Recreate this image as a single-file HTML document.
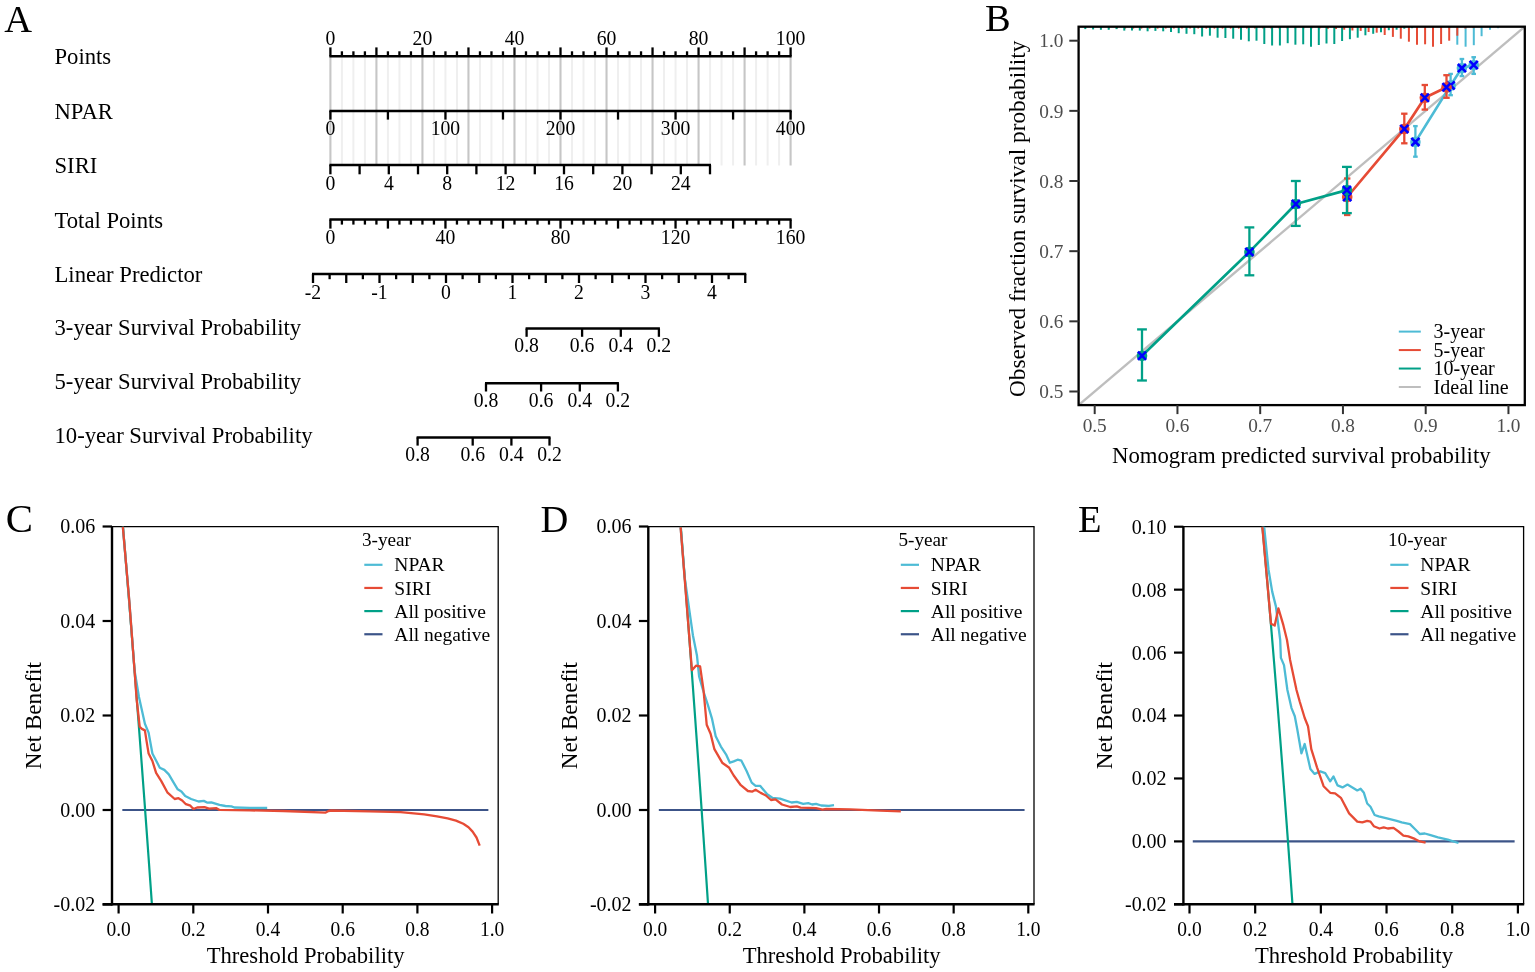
<!DOCTYPE html>
<html><head><meta charset="utf-8"><title>Nomogram, calibration and decision curves</title>
<style>
html,body{margin:0;padding:0;background:#fff;}
body{width:1535px;height:972px;overflow:hidden;}
svg{display:block;}
text{font-family:"Liberation Serif","Times New Roman",serif;}
</style></head><body>
<svg width="1535" height="972" viewBox="0 0 1535 972">
<rect width="1535" height="972" fill="#fff"/>
<text transform="translate(4.2,31.5)" font-size="38.5">A</text>
<text transform="translate(54.5,64.3) scale(0.9450,1)" font-size="24">Points</text>
<text transform="translate(54.5,118.9) scale(0.9450,1)" font-size="24">NPAR</text>
<text transform="translate(54.5,172.9) scale(0.9450,1)" font-size="24">SIRI</text>
<text transform="translate(54.5,227.5) scale(0.9450,1)" font-size="24">Total Points</text>
<text transform="translate(54.5,282.4) scale(0.9450,1)" font-size="24">Linear Predictor</text>
<text transform="translate(54.5,334.8) scale(0.9450,1)" font-size="24">3-year Survival Probability</text>
<text transform="translate(54.5,389) scale(0.9450,1)" font-size="24">5-year Survival Probability</text>
<text transform="translate(54.5,443) scale(0.9450,1)" font-size="24">10-year Survival Probability</text>
<line x1="330.4" y1="56.3" x2="330.4" y2="165.5" stroke="#c6c6c6" stroke-width="2.1"/>
<line x1="341.9" y1="56.3" x2="341.9" y2="165.5" stroke="#efefef" stroke-width="2"/>
<line x1="353.41" y1="56.3" x2="353.41" y2="165.5" stroke="#efefef" stroke-width="2"/>
<line x1="364.91" y1="56.3" x2="364.91" y2="165.5" stroke="#efefef" stroke-width="2"/>
<line x1="376.42" y1="56.3" x2="376.42" y2="165.5" stroke="#c6c6c6" stroke-width="2.1"/>
<line x1="387.92" y1="56.3" x2="387.92" y2="165.5" stroke="#efefef" stroke-width="2"/>
<line x1="399.43" y1="56.3" x2="399.43" y2="165.5" stroke="#efefef" stroke-width="2"/>
<line x1="410.94" y1="56.3" x2="410.94" y2="165.5" stroke="#efefef" stroke-width="2"/>
<line x1="422.44" y1="56.3" x2="422.44" y2="165.5" stroke="#c6c6c6" stroke-width="2.1"/>
<line x1="433.94" y1="56.3" x2="433.94" y2="165.5" stroke="#efefef" stroke-width="2"/>
<line x1="445.45" y1="56.3" x2="445.45" y2="165.5" stroke="#efefef" stroke-width="2"/>
<line x1="456.95" y1="56.3" x2="456.95" y2="165.5" stroke="#efefef" stroke-width="2"/>
<line x1="468.46" y1="56.3" x2="468.46" y2="165.5" stroke="#c6c6c6" stroke-width="2.1"/>
<line x1="479.97" y1="56.3" x2="479.97" y2="165.5" stroke="#efefef" stroke-width="2"/>
<line x1="491.47" y1="56.3" x2="491.47" y2="165.5" stroke="#efefef" stroke-width="2"/>
<line x1="502.97" y1="56.3" x2="502.97" y2="165.5" stroke="#efefef" stroke-width="2"/>
<line x1="514.48" y1="56.3" x2="514.48" y2="165.5" stroke="#c6c6c6" stroke-width="2.1"/>
<line x1="525.99" y1="56.3" x2="525.99" y2="165.5" stroke="#efefef" stroke-width="2"/>
<line x1="537.49" y1="56.3" x2="537.49" y2="165.5" stroke="#efefef" stroke-width="2"/>
<line x1="549" y1="56.3" x2="549" y2="165.5" stroke="#efefef" stroke-width="2"/>
<line x1="560.5" y1="56.3" x2="560.5" y2="165.5" stroke="#c6c6c6" stroke-width="2.1"/>
<line x1="572" y1="56.3" x2="572" y2="165.5" stroke="#efefef" stroke-width="2"/>
<line x1="583.51" y1="56.3" x2="583.51" y2="165.5" stroke="#efefef" stroke-width="2"/>
<line x1="595.01" y1="56.3" x2="595.01" y2="165.5" stroke="#efefef" stroke-width="2"/>
<line x1="606.52" y1="56.3" x2="606.52" y2="165.5" stroke="#c6c6c6" stroke-width="2.1"/>
<line x1="618.03" y1="56.3" x2="618.03" y2="165.5" stroke="#efefef" stroke-width="2"/>
<line x1="629.53" y1="56.3" x2="629.53" y2="165.5" stroke="#efefef" stroke-width="2"/>
<line x1="641.04" y1="56.3" x2="641.04" y2="165.5" stroke="#efefef" stroke-width="2"/>
<line x1="652.54" y1="56.3" x2="652.54" y2="165.5" stroke="#c6c6c6" stroke-width="2.1"/>
<line x1="664.04" y1="56.3" x2="664.04" y2="165.5" stroke="#efefef" stroke-width="2"/>
<line x1="675.55" y1="56.3" x2="675.55" y2="165.5" stroke="#efefef" stroke-width="2"/>
<line x1="687.05" y1="56.3" x2="687.05" y2="165.5" stroke="#efefef" stroke-width="2"/>
<line x1="698.56" y1="56.3" x2="698.56" y2="165.5" stroke="#c6c6c6" stroke-width="2.1"/>
<line x1="710.07" y1="56.3" x2="710.07" y2="165.5" stroke="#efefef" stroke-width="2"/>
<line x1="721.57" y1="56.3" x2="721.57" y2="165.5" stroke="#efefef" stroke-width="2"/>
<line x1="733.08" y1="56.3" x2="733.08" y2="165.5" stroke="#efefef" stroke-width="2"/>
<line x1="744.58" y1="56.3" x2="744.58" y2="165.5" stroke="#c6c6c6" stroke-width="2.1"/>
<line x1="756.09" y1="56.3" x2="756.09" y2="165.5" stroke="#efefef" stroke-width="2"/>
<line x1="767.59" y1="56.3" x2="767.59" y2="165.5" stroke="#efefef" stroke-width="2"/>
<line x1="779.1" y1="56.3" x2="779.1" y2="165.5" stroke="#efefef" stroke-width="2"/>
<line x1="790.6" y1="56.3" x2="790.6" y2="165.5" stroke="#c6c6c6" stroke-width="2.1"/>
<line x1="329.4" y1="56.3" x2="791.6" y2="56.3" stroke="#000" stroke-width="2.5"/>
<line x1="330.4" y1="56.3" x2="330.4" y2="47.4" stroke="#000" stroke-width="2.3"/>
<line x1="341.9" y1="56.3" x2="341.9" y2="51.3" stroke="#000" stroke-width="2.3"/>
<line x1="353.41" y1="56.3" x2="353.41" y2="51.3" stroke="#000" stroke-width="2.3"/>
<line x1="364.91" y1="56.3" x2="364.91" y2="51.3" stroke="#000" stroke-width="2.3"/>
<line x1="376.42" y1="56.3" x2="376.42" y2="47.4" stroke="#000" stroke-width="2.3"/>
<line x1="387.92" y1="56.3" x2="387.92" y2="51.3" stroke="#000" stroke-width="2.3"/>
<line x1="399.43" y1="56.3" x2="399.43" y2="51.3" stroke="#000" stroke-width="2.3"/>
<line x1="410.94" y1="56.3" x2="410.94" y2="51.3" stroke="#000" stroke-width="2.3"/>
<line x1="422.44" y1="56.3" x2="422.44" y2="47.4" stroke="#000" stroke-width="2.3"/>
<line x1="433.94" y1="56.3" x2="433.94" y2="51.3" stroke="#000" stroke-width="2.3"/>
<line x1="445.45" y1="56.3" x2="445.45" y2="51.3" stroke="#000" stroke-width="2.3"/>
<line x1="456.95" y1="56.3" x2="456.95" y2="51.3" stroke="#000" stroke-width="2.3"/>
<line x1="468.46" y1="56.3" x2="468.46" y2="47.4" stroke="#000" stroke-width="2.3"/>
<line x1="479.97" y1="56.3" x2="479.97" y2="51.3" stroke="#000" stroke-width="2.3"/>
<line x1="491.47" y1="56.3" x2="491.47" y2="51.3" stroke="#000" stroke-width="2.3"/>
<line x1="502.97" y1="56.3" x2="502.97" y2="51.3" stroke="#000" stroke-width="2.3"/>
<line x1="514.48" y1="56.3" x2="514.48" y2="47.4" stroke="#000" stroke-width="2.3"/>
<line x1="525.99" y1="56.3" x2="525.99" y2="51.3" stroke="#000" stroke-width="2.3"/>
<line x1="537.49" y1="56.3" x2="537.49" y2="51.3" stroke="#000" stroke-width="2.3"/>
<line x1="549" y1="56.3" x2="549" y2="51.3" stroke="#000" stroke-width="2.3"/>
<line x1="560.5" y1="56.3" x2="560.5" y2="47.4" stroke="#000" stroke-width="2.3"/>
<line x1="572" y1="56.3" x2="572" y2="51.3" stroke="#000" stroke-width="2.3"/>
<line x1="583.51" y1="56.3" x2="583.51" y2="51.3" stroke="#000" stroke-width="2.3"/>
<line x1="595.01" y1="56.3" x2="595.01" y2="51.3" stroke="#000" stroke-width="2.3"/>
<line x1="606.52" y1="56.3" x2="606.52" y2="47.4" stroke="#000" stroke-width="2.3"/>
<line x1="618.03" y1="56.3" x2="618.03" y2="51.3" stroke="#000" stroke-width="2.3"/>
<line x1="629.53" y1="56.3" x2="629.53" y2="51.3" stroke="#000" stroke-width="2.3"/>
<line x1="641.04" y1="56.3" x2="641.04" y2="51.3" stroke="#000" stroke-width="2.3"/>
<line x1="652.54" y1="56.3" x2="652.54" y2="47.4" stroke="#000" stroke-width="2.3"/>
<line x1="664.04" y1="56.3" x2="664.04" y2="51.3" stroke="#000" stroke-width="2.3"/>
<line x1="675.55" y1="56.3" x2="675.55" y2="51.3" stroke="#000" stroke-width="2.3"/>
<line x1="687.05" y1="56.3" x2="687.05" y2="51.3" stroke="#000" stroke-width="2.3"/>
<line x1="698.56" y1="56.3" x2="698.56" y2="47.4" stroke="#000" stroke-width="2.3"/>
<line x1="710.07" y1="56.3" x2="710.07" y2="51.3" stroke="#000" stroke-width="2.3"/>
<line x1="721.57" y1="56.3" x2="721.57" y2="51.3" stroke="#000" stroke-width="2.3"/>
<line x1="733.08" y1="56.3" x2="733.08" y2="51.3" stroke="#000" stroke-width="2.3"/>
<line x1="744.58" y1="56.3" x2="744.58" y2="47.4" stroke="#000" stroke-width="2.3"/>
<line x1="756.09" y1="56.3" x2="756.09" y2="51.3" stroke="#000" stroke-width="2.3"/>
<line x1="767.59" y1="56.3" x2="767.59" y2="51.3" stroke="#000" stroke-width="2.3"/>
<line x1="779.1" y1="56.3" x2="779.1" y2="51.3" stroke="#000" stroke-width="2.3"/>
<line x1="790.6" y1="56.3" x2="790.6" y2="47.4" stroke="#000" stroke-width="2.3"/>
<text transform="translate(330.4,45.3) scale(0.9700,1)" font-size="20.3" text-anchor="middle">0</text>
<text transform="translate(422.44,45.3) scale(0.9700,1)" font-size="20.3" text-anchor="middle">20</text>
<text transform="translate(514.48,45.3) scale(0.9700,1)" font-size="20.3" text-anchor="middle">40</text>
<text transform="translate(606.52,45.3) scale(0.9700,1)" font-size="20.3" text-anchor="middle">60</text>
<text transform="translate(698.56,45.3) scale(0.9700,1)" font-size="20.3" text-anchor="middle">80</text>
<text transform="translate(790.6,45.3) scale(0.9700,1)" font-size="20.3" text-anchor="middle">100</text>
<line x1="329.4" y1="111" x2="791.6" y2="111" stroke="#000" stroke-width="2.5"/>
<line x1="330.4" y1="111" x2="330.4" y2="119.6" stroke="#000" stroke-width="2.3"/>
<line x1="387.92" y1="111" x2="387.92" y2="119.6" stroke="#000" stroke-width="2.3"/>
<line x1="445.45" y1="111" x2="445.45" y2="119.6" stroke="#000" stroke-width="2.3"/>
<line x1="502.97" y1="111" x2="502.97" y2="119.6" stroke="#000" stroke-width="2.3"/>
<line x1="560.5" y1="111" x2="560.5" y2="119.6" stroke="#000" stroke-width="2.3"/>
<line x1="618.03" y1="111" x2="618.03" y2="119.6" stroke="#000" stroke-width="2.3"/>
<line x1="675.55" y1="111" x2="675.55" y2="119.6" stroke="#000" stroke-width="2.3"/>
<line x1="733.08" y1="111" x2="733.08" y2="119.6" stroke="#000" stroke-width="2.3"/>
<line x1="790.6" y1="111" x2="790.6" y2="119.6" stroke="#000" stroke-width="2.3"/>
<text transform="translate(330.4,135.2) scale(0.9700,1)" font-size="20.3" text-anchor="middle">0</text>
<text transform="translate(445.45,135.2) scale(0.9700,1)" font-size="20.3" text-anchor="middle">100</text>
<text transform="translate(560.5,135.2) scale(0.9700,1)" font-size="20.3" text-anchor="middle">200</text>
<text transform="translate(675.55,135.2) scale(0.9700,1)" font-size="20.3" text-anchor="middle">300</text>
<text transform="translate(790.6,135.2) scale(0.9700,1)" font-size="20.3" text-anchor="middle">400</text>
<line x1="329.4" y1="165.1" x2="711" y2="165.1" stroke="#000" stroke-width="2.5"/>
<line x1="330.4" y1="165.1" x2="330.4" y2="174.3" stroke="#000" stroke-width="2.3"/>
<line x1="359.6" y1="165.1" x2="359.6" y2="174.3" stroke="#000" stroke-width="2.3"/>
<line x1="388.8" y1="165.1" x2="388.8" y2="174.3" stroke="#000" stroke-width="2.3"/>
<line x1="418" y1="165.1" x2="418" y2="174.3" stroke="#000" stroke-width="2.3"/>
<line x1="447.2" y1="165.1" x2="447.2" y2="174.3" stroke="#000" stroke-width="2.3"/>
<line x1="476.4" y1="165.1" x2="476.4" y2="174.3" stroke="#000" stroke-width="2.3"/>
<line x1="505.6" y1="165.1" x2="505.6" y2="174.3" stroke="#000" stroke-width="2.3"/>
<line x1="534.8" y1="165.1" x2="534.8" y2="174.3" stroke="#000" stroke-width="2.3"/>
<line x1="564" y1="165.1" x2="564" y2="174.3" stroke="#000" stroke-width="2.3"/>
<line x1="593.2" y1="165.1" x2="593.2" y2="174.3" stroke="#000" stroke-width="2.3"/>
<line x1="622.4" y1="165.1" x2="622.4" y2="174.3" stroke="#000" stroke-width="2.3"/>
<line x1="651.6" y1="165.1" x2="651.6" y2="174.3" stroke="#000" stroke-width="2.3"/>
<line x1="680.8" y1="165.1" x2="680.8" y2="174.3" stroke="#000" stroke-width="2.3"/>
<line x1="710" y1="165.1" x2="710" y2="174.3" stroke="#000" stroke-width="2.3"/>
<text transform="translate(330.4,189.6) scale(0.9700,1)" font-size="20.3" text-anchor="middle">0</text>
<text transform="translate(388.8,189.6) scale(0.9700,1)" font-size="20.3" text-anchor="middle">4</text>
<text transform="translate(447.2,189.6) scale(0.9700,1)" font-size="20.3" text-anchor="middle">8</text>
<text transform="translate(505.6,189.6) scale(0.9700,1)" font-size="20.3" text-anchor="middle">12</text>
<text transform="translate(564,189.6) scale(0.9700,1)" font-size="20.3" text-anchor="middle">16</text>
<text transform="translate(622.4,189.6) scale(0.9700,1)" font-size="20.3" text-anchor="middle">20</text>
<text transform="translate(680.8,189.6) scale(0.9700,1)" font-size="20.3" text-anchor="middle">24</text>
<line x1="329.4" y1="219.6" x2="791.6" y2="219.6" stroke="#000" stroke-width="2.5"/>
<line x1="330.4" y1="219.6" x2="330.4" y2="228.6" stroke="#000" stroke-width="2.3"/>
<line x1="341.9" y1="219.6" x2="341.9" y2="224.6" stroke="#000" stroke-width="2.3"/>
<line x1="353.41" y1="219.6" x2="353.41" y2="224.6" stroke="#000" stroke-width="2.3"/>
<line x1="364.91" y1="219.6" x2="364.91" y2="224.6" stroke="#000" stroke-width="2.3"/>
<line x1="376.42" y1="219.6" x2="376.42" y2="224.6" stroke="#000" stroke-width="2.3"/>
<line x1="387.92" y1="219.6" x2="387.92" y2="228.6" stroke="#000" stroke-width="2.3"/>
<line x1="399.43" y1="219.6" x2="399.43" y2="224.6" stroke="#000" stroke-width="2.3"/>
<line x1="410.94" y1="219.6" x2="410.94" y2="224.6" stroke="#000" stroke-width="2.3"/>
<line x1="422.44" y1="219.6" x2="422.44" y2="224.6" stroke="#000" stroke-width="2.3"/>
<line x1="433.94" y1="219.6" x2="433.94" y2="224.6" stroke="#000" stroke-width="2.3"/>
<line x1="445.45" y1="219.6" x2="445.45" y2="228.6" stroke="#000" stroke-width="2.3"/>
<line x1="456.95" y1="219.6" x2="456.95" y2="224.6" stroke="#000" stroke-width="2.3"/>
<line x1="468.46" y1="219.6" x2="468.46" y2="224.6" stroke="#000" stroke-width="2.3"/>
<line x1="479.96" y1="219.6" x2="479.96" y2="224.6" stroke="#000" stroke-width="2.3"/>
<line x1="491.47" y1="219.6" x2="491.47" y2="224.6" stroke="#000" stroke-width="2.3"/>
<line x1="502.98" y1="219.6" x2="502.98" y2="228.6" stroke="#000" stroke-width="2.3"/>
<line x1="514.48" y1="219.6" x2="514.48" y2="224.6" stroke="#000" stroke-width="2.3"/>
<line x1="525.99" y1="219.6" x2="525.99" y2="224.6" stroke="#000" stroke-width="2.3"/>
<line x1="537.49" y1="219.6" x2="537.49" y2="224.6" stroke="#000" stroke-width="2.3"/>
<line x1="549" y1="219.6" x2="549" y2="224.6" stroke="#000" stroke-width="2.3"/>
<line x1="560.5" y1="219.6" x2="560.5" y2="228.6" stroke="#000" stroke-width="2.3"/>
<line x1="572" y1="219.6" x2="572" y2="224.6" stroke="#000" stroke-width="2.3"/>
<line x1="583.51" y1="219.6" x2="583.51" y2="224.6" stroke="#000" stroke-width="2.3"/>
<line x1="595.01" y1="219.6" x2="595.01" y2="224.6" stroke="#000" stroke-width="2.3"/>
<line x1="606.52" y1="219.6" x2="606.52" y2="224.6" stroke="#000" stroke-width="2.3"/>
<line x1="618.03" y1="219.6" x2="618.03" y2="228.6" stroke="#000" stroke-width="2.3"/>
<line x1="629.53" y1="219.6" x2="629.53" y2="224.6" stroke="#000" stroke-width="2.3"/>
<line x1="641.04" y1="219.6" x2="641.04" y2="224.6" stroke="#000" stroke-width="2.3"/>
<line x1="652.54" y1="219.6" x2="652.54" y2="224.6" stroke="#000" stroke-width="2.3"/>
<line x1="664.05" y1="219.6" x2="664.05" y2="224.6" stroke="#000" stroke-width="2.3"/>
<line x1="675.55" y1="219.6" x2="675.55" y2="228.6" stroke="#000" stroke-width="2.3"/>
<line x1="687.06" y1="219.6" x2="687.06" y2="224.6" stroke="#000" stroke-width="2.3"/>
<line x1="698.56" y1="219.6" x2="698.56" y2="224.6" stroke="#000" stroke-width="2.3"/>
<line x1="710.07" y1="219.6" x2="710.07" y2="224.6" stroke="#000" stroke-width="2.3"/>
<line x1="721.57" y1="219.6" x2="721.57" y2="224.6" stroke="#000" stroke-width="2.3"/>
<line x1="733.08" y1="219.6" x2="733.08" y2="228.6" stroke="#000" stroke-width="2.3"/>
<line x1="744.58" y1="219.6" x2="744.58" y2="224.6" stroke="#000" stroke-width="2.3"/>
<line x1="756.09" y1="219.6" x2="756.09" y2="224.6" stroke="#000" stroke-width="2.3"/>
<line x1="767.59" y1="219.6" x2="767.59" y2="224.6" stroke="#000" stroke-width="2.3"/>
<line x1="779.1" y1="219.6" x2="779.1" y2="224.6" stroke="#000" stroke-width="2.3"/>
<line x1="790.6" y1="219.6" x2="790.6" y2="228.6" stroke="#000" stroke-width="2.3"/>
<text transform="translate(330.4,243.7) scale(0.9700,1)" font-size="20.3" text-anchor="middle">0</text>
<text transform="translate(445.45,243.7) scale(0.9700,1)" font-size="20.3" text-anchor="middle">40</text>
<text transform="translate(560.5,243.7) scale(0.9700,1)" font-size="20.3" text-anchor="middle">80</text>
<text transform="translate(675.55,243.7) scale(0.9700,1)" font-size="20.3" text-anchor="middle">120</text>
<text transform="translate(790.6,243.7) scale(0.9700,1)" font-size="20.3" text-anchor="middle">160</text>
<line x1="312" y1="274" x2="746.25" y2="274" stroke="#000" stroke-width="2.5"/>
<line x1="313" y1="274" x2="313" y2="283" stroke="#000" stroke-width="2.3"/>
<line x1="329.62" y1="274" x2="329.62" y2="279.2" stroke="#000" stroke-width="2.3"/>
<line x1="346.25" y1="274" x2="346.25" y2="283" stroke="#000" stroke-width="2.3"/>
<line x1="362.88" y1="274" x2="362.88" y2="279.2" stroke="#000" stroke-width="2.3"/>
<line x1="379.5" y1="274" x2="379.5" y2="283" stroke="#000" stroke-width="2.3"/>
<line x1="396.12" y1="274" x2="396.12" y2="279.2" stroke="#000" stroke-width="2.3"/>
<line x1="412.75" y1="274" x2="412.75" y2="283" stroke="#000" stroke-width="2.3"/>
<line x1="429.38" y1="274" x2="429.38" y2="279.2" stroke="#000" stroke-width="2.3"/>
<line x1="446" y1="274" x2="446" y2="283" stroke="#000" stroke-width="2.3"/>
<line x1="462.62" y1="274" x2="462.62" y2="279.2" stroke="#000" stroke-width="2.3"/>
<line x1="479.25" y1="274" x2="479.25" y2="283" stroke="#000" stroke-width="2.3"/>
<line x1="495.88" y1="274" x2="495.88" y2="279.2" stroke="#000" stroke-width="2.3"/>
<line x1="512.5" y1="274" x2="512.5" y2="283" stroke="#000" stroke-width="2.3"/>
<line x1="529.12" y1="274" x2="529.12" y2="279.2" stroke="#000" stroke-width="2.3"/>
<line x1="545.75" y1="274" x2="545.75" y2="283" stroke="#000" stroke-width="2.3"/>
<line x1="562.38" y1="274" x2="562.38" y2="279.2" stroke="#000" stroke-width="2.3"/>
<line x1="579" y1="274" x2="579" y2="283" stroke="#000" stroke-width="2.3"/>
<line x1="595.62" y1="274" x2="595.62" y2="279.2" stroke="#000" stroke-width="2.3"/>
<line x1="612.25" y1="274" x2="612.25" y2="283" stroke="#000" stroke-width="2.3"/>
<line x1="628.88" y1="274" x2="628.88" y2="279.2" stroke="#000" stroke-width="2.3"/>
<line x1="645.5" y1="274" x2="645.5" y2="283" stroke="#000" stroke-width="2.3"/>
<line x1="662.12" y1="274" x2="662.12" y2="279.2" stroke="#000" stroke-width="2.3"/>
<line x1="678.75" y1="274" x2="678.75" y2="283" stroke="#000" stroke-width="2.3"/>
<line x1="695.38" y1="274" x2="695.38" y2="279.2" stroke="#000" stroke-width="2.3"/>
<line x1="712" y1="274" x2="712" y2="283" stroke="#000" stroke-width="2.3"/>
<line x1="728.62" y1="274" x2="728.62" y2="279.2" stroke="#000" stroke-width="2.3"/>
<line x1="745.25" y1="274" x2="745.25" y2="283" stroke="#000" stroke-width="2.3"/>
<text transform="translate(313,298.5) scale(0.9700,1)" font-size="20.3" text-anchor="middle">-2</text>
<text transform="translate(379.5,298.5) scale(0.9700,1)" font-size="20.3" text-anchor="middle">-1</text>
<text transform="translate(446,298.5) scale(0.9700,1)" font-size="20.3" text-anchor="middle">0</text>
<text transform="translate(512.5,298.5) scale(0.9700,1)" font-size="20.3" text-anchor="middle">1</text>
<text transform="translate(579,298.5) scale(0.9700,1)" font-size="20.3" text-anchor="middle">2</text>
<text transform="translate(645.5,298.5) scale(0.9700,1)" font-size="20.3" text-anchor="middle">3</text>
<text transform="translate(712,298.5) scale(0.9700,1)" font-size="20.3" text-anchor="middle">4</text>
<line x1="525.6" y1="328.6" x2="659.9" y2="328.6" stroke="#000" stroke-width="2.5"/>
<line x1="526.6" y1="328.6" x2="526.6" y2="336.8" stroke="#000" stroke-width="2.3"/>
<text transform="translate(526.6,351.6) scale(0.9700,1)" font-size="20.3" text-anchor="middle">0.8</text>
<line x1="582.1" y1="328.6" x2="582.1" y2="336.8" stroke="#000" stroke-width="2.3"/>
<text transform="translate(582.1,351.6) scale(0.9700,1)" font-size="20.3" text-anchor="middle">0.6</text>
<line x1="620.8" y1="328.6" x2="620.8" y2="336.8" stroke="#000" stroke-width="2.3"/>
<text transform="translate(620.8,351.6) scale(0.9700,1)" font-size="20.3" text-anchor="middle">0.4</text>
<line x1="658.9" y1="328.6" x2="658.9" y2="336.8" stroke="#000" stroke-width="2.3"/>
<text transform="translate(658.9,351.6) scale(0.9700,1)" font-size="20.3" text-anchor="middle">0.2</text>
<line x1="485" y1="383.3" x2="618.9" y2="383.3" stroke="#000" stroke-width="2.5"/>
<line x1="486" y1="383.3" x2="486" y2="391.5" stroke="#000" stroke-width="2.3"/>
<text transform="translate(486,406.7) scale(0.9700,1)" font-size="20.3" text-anchor="middle">0.8</text>
<line x1="541.1" y1="383.3" x2="541.1" y2="391.5" stroke="#000" stroke-width="2.3"/>
<text transform="translate(541.1,406.7) scale(0.9700,1)" font-size="20.3" text-anchor="middle">0.6</text>
<line x1="579.8" y1="383.3" x2="579.8" y2="391.5" stroke="#000" stroke-width="2.3"/>
<text transform="translate(579.8,406.7) scale(0.9700,1)" font-size="20.3" text-anchor="middle">0.4</text>
<line x1="617.9" y1="383.3" x2="617.9" y2="391.5" stroke="#000" stroke-width="2.3"/>
<text transform="translate(617.9,406.7) scale(0.9700,1)" font-size="20.3" text-anchor="middle">0.2</text>
<line x1="416.6" y1="437.4" x2="550.5" y2="437.4" stroke="#000" stroke-width="2.5"/>
<line x1="417.6" y1="437.4" x2="417.6" y2="445.6" stroke="#000" stroke-width="2.3"/>
<text transform="translate(417.6,461.1) scale(0.9700,1)" font-size="20.3" text-anchor="middle">0.8</text>
<line x1="472.7" y1="437.4" x2="472.7" y2="445.6" stroke="#000" stroke-width="2.3"/>
<text transform="translate(472.7,461.1) scale(0.9700,1)" font-size="20.3" text-anchor="middle">0.6</text>
<line x1="511.4" y1="437.4" x2="511.4" y2="445.6" stroke="#000" stroke-width="2.3"/>
<text transform="translate(511.4,461.1) scale(0.9700,1)" font-size="20.3" text-anchor="middle">0.4</text>
<line x1="549.5" y1="437.4" x2="549.5" y2="445.6" stroke="#000" stroke-width="2.3"/>
<text transform="translate(549.5,461.1) scale(0.9700,1)" font-size="20.3" text-anchor="middle">0.2</text>
<text transform="translate(985,31.4)" font-size="38.5">B</text>
<line x1="1101" y1="26.7" x2="1101" y2="28.6" stroke="#E64B35" stroke-width="1.6"/>
<line x1="1109.1" y1="26.7" x2="1109.1" y2="28.6" stroke="#E64B35" stroke-width="1.6"/>
<line x1="1117.2" y1="26.7" x2="1117.2" y2="28.6" stroke="#E64B35" stroke-width="1.6"/>
<line x1="1125.3" y1="26.7" x2="1125.3" y2="28.6" stroke="#E64B35" stroke-width="1.6"/>
<line x1="1133.4" y1="26.7" x2="1133.4" y2="28.6" stroke="#E64B35" stroke-width="1.6"/>
<line x1="1141.5" y1="26.7" x2="1141.5" y2="28.6" stroke="#E64B35" stroke-width="1.6"/>
<line x1="1149.6" y1="26.7" x2="1149.6" y2="28.6" stroke="#E64B35" stroke-width="1.6"/>
<line x1="1157.7" y1="26.7" x2="1157.7" y2="28.6" stroke="#E64B35" stroke-width="1.6"/>
<line x1="1165.8" y1="26.7" x2="1165.8" y2="28.6" stroke="#E64B35" stroke-width="1.6"/>
<line x1="1173.9" y1="26.7" x2="1173.9" y2="28.6" stroke="#E64B35" stroke-width="1.6"/>
<line x1="1182" y1="26.7" x2="1182" y2="28.6" stroke="#E64B35" stroke-width="1.6"/>
<line x1="1190.1" y1="26.7" x2="1190.1" y2="28.6" stroke="#E64B35" stroke-width="1.6"/>
<line x1="1198.2" y1="26.7" x2="1198.2" y2="28.6" stroke="#E64B35" stroke-width="1.6"/>
<line x1="1206.3" y1="26.7" x2="1206.3" y2="28.6" stroke="#E64B35" stroke-width="1.6"/>
<line x1="1214.4" y1="26.7" x2="1214.4" y2="28.6" stroke="#E64B35" stroke-width="1.6"/>
<line x1="1222.5" y1="26.7" x2="1222.5" y2="28.6" stroke="#E64B35" stroke-width="1.6"/>
<line x1="1230.6" y1="26.7" x2="1230.6" y2="28.6" stroke="#E64B35" stroke-width="1.6"/>
<line x1="1238.7" y1="26.7" x2="1238.7" y2="28.6" stroke="#E64B35" stroke-width="1.6"/>
<line x1="1246.8" y1="26.7" x2="1246.8" y2="28.6" stroke="#E64B35" stroke-width="1.6"/>
<line x1="1254.9" y1="26.7" x2="1254.9" y2="28.6" stroke="#E64B35" stroke-width="1.6"/>
<line x1="1263" y1="26.7" x2="1263" y2="28.6" stroke="#E64B35" stroke-width="1.6"/>
<line x1="1271.1" y1="26.7" x2="1271.1" y2="28.6" stroke="#E64B35" stroke-width="1.6"/>
<line x1="1279.2" y1="26.7" x2="1279.2" y2="28.6" stroke="#E64B35" stroke-width="1.6"/>
<line x1="1287.3" y1="26.7" x2="1287.3" y2="28.6" stroke="#E64B35" stroke-width="1.6"/>
<line x1="1295.4" y1="26.7" x2="1295.4" y2="28.6" stroke="#E64B35" stroke-width="1.6"/>
<line x1="1303.5" y1="26.7" x2="1303.5" y2="28.6" stroke="#E64B35" stroke-width="1.6"/>
<line x1="1311.6" y1="26.7" x2="1311.6" y2="28.6" stroke="#E64B35" stroke-width="1.6"/>
<line x1="1319.7" y1="26.7" x2="1319.7" y2="28.6" stroke="#E64B35" stroke-width="1.6"/>
<line x1="1449.2" y1="26.7" x2="1449.2" y2="28.5" stroke="#4DBBD5" stroke-width="2"/>
<line x1="1457.3" y1="26.7" x2="1457.3" y2="44.7" stroke="#4DBBD5" stroke-width="2"/>
<line x1="1465.6" y1="26.7" x2="1465.6" y2="46.7" stroke="#4DBBD5" stroke-width="2"/>
<line x1="1473.8" y1="26.7" x2="1473.8" y2="45.2" stroke="#4DBBD5" stroke-width="2"/>
<line x1="1481.6" y1="26.7" x2="1481.6" y2="36.2" stroke="#4DBBD5" stroke-width="2"/>
<line x1="1490" y1="26.7" x2="1490" y2="29.7" stroke="#4DBBD5" stroke-width="2"/>
<line x1="1498.1" y1="26.7" x2="1498.1" y2="28.2" stroke="#4DBBD5" stroke-width="2"/>
<line x1="1327.7" y1="26.7" x2="1327.7" y2="29" stroke="#E64B35" stroke-width="2"/>
<line x1="1336" y1="26.7" x2="1336" y2="29" stroke="#E64B35" stroke-width="2"/>
<line x1="1344.2" y1="26.7" x2="1344.2" y2="29.7" stroke="#E64B35" stroke-width="2"/>
<line x1="1352.4" y1="26.7" x2="1352.4" y2="30.5" stroke="#E64B35" stroke-width="2"/>
<line x1="1360.7" y1="26.7" x2="1360.7" y2="30.9" stroke="#E64B35" stroke-width="2"/>
<line x1="1368.6" y1="26.7" x2="1368.6" y2="32" stroke="#E64B35" stroke-width="2"/>
<line x1="1376.7" y1="26.7" x2="1376.7" y2="32.7" stroke="#E64B35" stroke-width="2"/>
<line x1="1384.7" y1="26.7" x2="1384.7" y2="35" stroke="#E64B35" stroke-width="2"/>
<line x1="1392.9" y1="26.7" x2="1392.9" y2="36.9" stroke="#E64B35" stroke-width="2"/>
<line x1="1400.8" y1="26.7" x2="1400.8" y2="38.7" stroke="#E64B35" stroke-width="2"/>
<line x1="1408.9" y1="26.7" x2="1408.9" y2="41.7" stroke="#E64B35" stroke-width="2"/>
<line x1="1417" y1="26.7" x2="1417" y2="44.7" stroke="#E64B35" stroke-width="2"/>
<line x1="1425.1" y1="26.7" x2="1425.1" y2="44.3" stroke="#E64B35" stroke-width="2"/>
<line x1="1433" y1="26.7" x2="1433" y2="46.7" stroke="#E64B35" stroke-width="2"/>
<line x1="1441.1" y1="26.7" x2="1441.1" y2="44" stroke="#E64B35" stroke-width="2"/>
<line x1="1449.2" y1="26.7" x2="1449.2" y2="40.7" stroke="#E64B35" stroke-width="2"/>
<line x1="1457.3" y1="26.7" x2="1457.3" y2="35.7" stroke="#E64B35" stroke-width="2"/>
<line x1="1465.4" y1="26.7" x2="1465.4" y2="28.5" stroke="#E64B35" stroke-width="2"/>
<line x1="1473.5" y1="26.7" x2="1473.5" y2="28.1" stroke="#E64B35" stroke-width="2"/>
<line x1="1085.3" y1="26.7" x2="1085.3" y2="29.1" stroke="#00A087" stroke-width="2"/>
<line x1="1093.1" y1="26.7" x2="1093.1" y2="29.4" stroke="#00A087" stroke-width="2"/>
<line x1="1100.9" y1="26.7" x2="1100.9" y2="29.8" stroke="#00A087" stroke-width="2"/>
<line x1="1108.7" y1="26.7" x2="1108.7" y2="29.8" stroke="#00A087" stroke-width="2"/>
<line x1="1116.5" y1="26.7" x2="1116.5" y2="29.1" stroke="#00A087" stroke-width="2"/>
<line x1="1124.3" y1="26.7" x2="1124.3" y2="30.6" stroke="#00A087" stroke-width="2"/>
<line x1="1132" y1="26.7" x2="1132" y2="30.6" stroke="#00A087" stroke-width="2"/>
<line x1="1139.8" y1="26.7" x2="1139.8" y2="30.6" stroke="#00A087" stroke-width="2"/>
<line x1="1147.6" y1="26.7" x2="1147.6" y2="31.3" stroke="#00A087" stroke-width="2"/>
<line x1="1155.4" y1="26.7" x2="1155.4" y2="30.9" stroke="#00A087" stroke-width="2"/>
<line x1="1163.2" y1="26.7" x2="1163.2" y2="31.3" stroke="#00A087" stroke-width="2"/>
<line x1="1171" y1="26.7" x2="1171" y2="32.1" stroke="#00A087" stroke-width="2"/>
<line x1="1178.7" y1="26.7" x2="1178.7" y2="33.2" stroke="#00A087" stroke-width="2"/>
<line x1="1186.5" y1="26.7" x2="1186.5" y2="33.8" stroke="#00A087" stroke-width="2"/>
<line x1="1194.3" y1="26.7" x2="1194.3" y2="34.2" stroke="#00A087" stroke-width="2"/>
<line x1="1202.1" y1="26.7" x2="1202.1" y2="36.5" stroke="#00A087" stroke-width="2"/>
<line x1="1209.9" y1="26.7" x2="1209.9" y2="35.7" stroke="#00A087" stroke-width="2"/>
<line x1="1217.6" y1="26.7" x2="1217.6" y2="37.7" stroke="#00A087" stroke-width="2"/>
<line x1="1225.4" y1="26.7" x2="1225.4" y2="38" stroke="#00A087" stroke-width="2"/>
<line x1="1233.2" y1="26.7" x2="1233.2" y2="38.7" stroke="#00A087" stroke-width="2"/>
<line x1="1241" y1="26.7" x2="1241" y2="39.8" stroke="#00A087" stroke-width="2"/>
<line x1="1248.8" y1="26.7" x2="1248.8" y2="41.3" stroke="#00A087" stroke-width="2"/>
<line x1="1256.5" y1="26.7" x2="1256.5" y2="40.7" stroke="#00A087" stroke-width="2"/>
<line x1="1264.3" y1="26.7" x2="1264.3" y2="44" stroke="#00A087" stroke-width="2"/>
<line x1="1272.1" y1="26.7" x2="1272.1" y2="45.5" stroke="#00A087" stroke-width="2"/>
<line x1="1279.9" y1="26.7" x2="1279.9" y2="45.5" stroke="#00A087" stroke-width="2"/>
<line x1="1287.7" y1="26.7" x2="1287.7" y2="43.2" stroke="#00A087" stroke-width="2"/>
<line x1="1295.4" y1="26.7" x2="1295.4" y2="44.7" stroke="#00A087" stroke-width="2"/>
<line x1="1303.2" y1="26.7" x2="1303.2" y2="44.3" stroke="#00A087" stroke-width="2"/>
<line x1="1311" y1="26.7" x2="1311" y2="46.7" stroke="#00A087" stroke-width="2"/>
<line x1="1318.8" y1="26.7" x2="1318.8" y2="45" stroke="#00A087" stroke-width="2"/>
<line x1="1326.5" y1="26.7" x2="1326.5" y2="43.5" stroke="#00A087" stroke-width="2"/>
<line x1="1334.3" y1="26.7" x2="1334.3" y2="44" stroke="#00A087" stroke-width="2"/>
<line x1="1342.1" y1="26.7" x2="1342.1" y2="41" stroke="#00A087" stroke-width="2"/>
<line x1="1349.9" y1="26.7" x2="1349.9" y2="39.2" stroke="#00A087" stroke-width="2"/>
<line x1="1357.7" y1="26.7" x2="1357.7" y2="37.7" stroke="#00A087" stroke-width="2"/>
<line x1="1365.4" y1="26.7" x2="1365.4" y2="35.3" stroke="#00A087" stroke-width="2"/>
<line x1="1373.2" y1="26.7" x2="1373.2" y2="33.8" stroke="#00A087" stroke-width="2"/>
<line x1="1381" y1="26.7" x2="1381" y2="32.3" stroke="#00A087" stroke-width="2"/>
<line x1="1388.8" y1="26.7" x2="1388.8" y2="30.2" stroke="#00A087" stroke-width="2"/>
<line x1="1396.6" y1="26.7" x2="1396.6" y2="29.7" stroke="#00A087" stroke-width="2"/>
<line x1="1404.3" y1="26.7" x2="1404.3" y2="28.7" stroke="#00A087" stroke-width="2"/>
<line x1="1412.1" y1="26.7" x2="1412.1" y2="28.2" stroke="#00A087" stroke-width="2"/>
<line x1="1078.6" y1="405.1" x2="1524.8" y2="26.7" stroke="#BEBEBE" stroke-width="2.4"/>
<path d="M1415.4 141.9 L1450.6 85.4 L1461.9 68.1 L1473.7 65" fill="none" stroke="#4DBBD5" stroke-width="2.7" stroke-linejoin="round"/>
<line x1="1415.4" y1="126.1" x2="1415.4" y2="156.7" stroke="#4DBBD5" stroke-width="2.3"/>
<line x1="1413.1" y1="126.1" x2="1417.7" y2="126.1" stroke="#4DBBD5" stroke-width="2.3"/>
<line x1="1413.1" y1="156.7" x2="1417.7" y2="156.7" stroke="#4DBBD5" stroke-width="2.3"/>
<line x1="1450.6" y1="73.9" x2="1450.6" y2="95.2" stroke="#4DBBD5" stroke-width="2.3"/>
<line x1="1448.3" y1="73.9" x2="1452.9" y2="73.9" stroke="#4DBBD5" stroke-width="2.3"/>
<line x1="1448.3" y1="95.2" x2="1452.9" y2="95.2" stroke="#4DBBD5" stroke-width="2.3"/>
<line x1="1461.9" y1="59" x2="1461.9" y2="76.1" stroke="#4DBBD5" stroke-width="2.3"/>
<line x1="1459.6" y1="59" x2="1464.2" y2="59" stroke="#4DBBD5" stroke-width="2.3"/>
<line x1="1459.6" y1="76.1" x2="1464.2" y2="76.1" stroke="#4DBBD5" stroke-width="2.3"/>
<line x1="1473.7" y1="57.2" x2="1473.7" y2="73.9" stroke="#4DBBD5" stroke-width="2.3"/>
<line x1="1471.4" y1="57.2" x2="1476" y2="57.2" stroke="#4DBBD5" stroke-width="2.3"/>
<line x1="1471.4" y1="73.9" x2="1476" y2="73.9" stroke="#4DBBD5" stroke-width="2.3"/>
<circle cx="1415.4" cy="141.9" r="5.3" fill="#4DBBD5"/>
<circle cx="1450.6" cy="85.4" r="5.3" fill="#4DBBD5"/>
<circle cx="1461.9" cy="68.1" r="5.3" fill="#4DBBD5"/>
<circle cx="1473.7" cy="65" r="5.3" fill="#4DBBD5"/>
<path d="M1411.3 137.8 L1419.5 146 M1411.3 146 L1419.5 137.8" stroke="#0000FF" stroke-width="2.6" fill="none"/>
<path d="M1446.5 81.3 L1454.7 89.5 M1446.5 89.5 L1454.7 81.3" stroke="#0000FF" stroke-width="2.6" fill="none"/>
<path d="M1457.8 64 L1466 72.2 M1457.8 72.2 L1466 64" stroke="#0000FF" stroke-width="2.6" fill="none"/>
<path d="M1469.6 60.9 L1477.8 69.1 M1469.6 69.1 L1477.8 60.9" stroke="#0000FF" stroke-width="2.6" fill="none"/>
<path d="M1347.2 197 L1404.3 128.9 L1424.8 97.8 L1446.5 87.2" fill="none" stroke="#E64B35" stroke-width="2.7" stroke-linejoin="round"/>
<line x1="1347.2" y1="178.5" x2="1347.2" y2="215" stroke="#E64B35" stroke-width="2.3"/>
<line x1="1344" y1="178.5" x2="1350.4" y2="178.5" stroke="#E64B35" stroke-width="2.3"/>
<line x1="1344" y1="215" x2="1350.4" y2="215" stroke="#E64B35" stroke-width="2.3"/>
<line x1="1404.3" y1="113.7" x2="1404.3" y2="143.3" stroke="#E64B35" stroke-width="2.3"/>
<line x1="1401.1" y1="113.7" x2="1407.5" y2="113.7" stroke="#E64B35" stroke-width="2.3"/>
<line x1="1401.1" y1="143.3" x2="1407.5" y2="143.3" stroke="#E64B35" stroke-width="2.3"/>
<line x1="1424.8" y1="85" x2="1424.8" y2="109.6" stroke="#E64B35" stroke-width="2.3"/>
<line x1="1421.6" y1="85" x2="1428" y2="85" stroke="#E64B35" stroke-width="2.3"/>
<line x1="1421.6" y1="109.6" x2="1428" y2="109.6" stroke="#E64B35" stroke-width="2.3"/>
<line x1="1446.5" y1="75.2" x2="1446.5" y2="97.8" stroke="#E64B35" stroke-width="2.3"/>
<line x1="1443.3" y1="75.2" x2="1449.7" y2="75.2" stroke="#E64B35" stroke-width="2.3"/>
<line x1="1443.3" y1="97.8" x2="1449.7" y2="97.8" stroke="#E64B35" stroke-width="2.3"/>
<circle cx="1347.2" cy="197" r="5.3" fill="#E64B35"/>
<circle cx="1404.3" cy="128.9" r="5.3" fill="#E64B35"/>
<circle cx="1424.8" cy="97.8" r="5.3" fill="#E64B35"/>
<circle cx="1446.5" cy="87.2" r="5.3" fill="#E64B35"/>
<path d="M1343.1 192.9 L1351.3 201.1 M1343.1 201.1 L1351.3 192.9" stroke="#0000FF" stroke-width="2.6" fill="none"/>
<path d="M1400.2 124.8 L1408.4 133 M1400.2 133 L1408.4 124.8" stroke="#0000FF" stroke-width="2.6" fill="none"/>
<path d="M1420.7 93.7 L1428.9 101.9 M1420.7 101.9 L1428.9 93.7" stroke="#0000FF" stroke-width="2.6" fill="none"/>
<path d="M1442.4 83.1 L1450.6 91.3 M1442.4 91.3 L1450.6 83.1" stroke="#0000FF" stroke-width="2.6" fill="none"/>
<path d="M1142 355.8 L1249.4 251.9 L1295.8 204 L1346.9 190.1" fill="none" stroke="#00A087" stroke-width="2.7" stroke-linejoin="round"/>
<line x1="1142" y1="329.4" x2="1142" y2="380.5" stroke="#00A087" stroke-width="2.3"/>
<line x1="1137.1" y1="329.4" x2="1146.9" y2="329.4" stroke="#00A087" stroke-width="2.3"/>
<line x1="1137.1" y1="380.5" x2="1146.9" y2="380.5" stroke="#00A087" stroke-width="2.3"/>
<line x1="1249.4" y1="227.4" x2="1249.4" y2="275.3" stroke="#00A087" stroke-width="2.3"/>
<line x1="1244.5" y1="227.4" x2="1254.3" y2="227.4" stroke="#00A087" stroke-width="2.3"/>
<line x1="1244.5" y1="275.3" x2="1254.3" y2="275.3" stroke="#00A087" stroke-width="2.3"/>
<line x1="1295.8" y1="181" x2="1295.8" y2="225.9" stroke="#00A087" stroke-width="2.3"/>
<line x1="1290.9" y1="181" x2="1300.7" y2="181" stroke="#00A087" stroke-width="2.3"/>
<line x1="1290.9" y1="225.9" x2="1300.7" y2="225.9" stroke="#00A087" stroke-width="2.3"/>
<line x1="1346.9" y1="166.9" x2="1346.9" y2="213.1" stroke="#00A087" stroke-width="2.3"/>
<line x1="1342" y1="166.9" x2="1351.8" y2="166.9" stroke="#00A087" stroke-width="2.3"/>
<line x1="1342" y1="213.1" x2="1351.8" y2="213.1" stroke="#00A087" stroke-width="2.3"/>
<circle cx="1142" cy="355.8" r="5.3" fill="#00A087"/>
<circle cx="1249.4" cy="251.9" r="5.3" fill="#00A087"/>
<circle cx="1295.8" cy="204" r="5.3" fill="#00A087"/>
<circle cx="1346.9" cy="190.1" r="5.3" fill="#00A087"/>
<path d="M1137.9 351.7 L1146.1 359.9 M1137.9 359.9 L1146.1 351.7" stroke="#0000FF" stroke-width="2.6" fill="none"/>
<path d="M1245.3 247.8 L1253.5 256 M1245.3 256 L1253.5 247.8" stroke="#0000FF" stroke-width="2.6" fill="none"/>
<path d="M1291.7 199.9 L1299.9 208.1 M1291.7 208.1 L1299.9 199.9" stroke="#0000FF" stroke-width="2.6" fill="none"/>
<path d="M1342.8 186 L1351 194.2 M1342.8 194.2 L1351 186" stroke="#0000FF" stroke-width="2.6" fill="none"/>
<rect x="1078.6" y="26.7" width="446.2" height="378.4" fill="none" stroke="#000" stroke-width="2.3"/>
<line x1="1069.3" y1="391.5" x2="1078.6" y2="391.5" stroke="#333" stroke-width="2"/>
<text transform="translate(1063.4,398.2)" font-size="19.3" text-anchor="end" fill="#4D4D4D">0.5</text>
<line x1="1069.3" y1="321.34" x2="1078.6" y2="321.34" stroke="#333" stroke-width="2"/>
<text transform="translate(1063.4,328.04)" font-size="19.3" text-anchor="end" fill="#4D4D4D">0.6</text>
<line x1="1069.3" y1="251.18" x2="1078.6" y2="251.18" stroke="#333" stroke-width="2"/>
<text transform="translate(1063.4,257.88)" font-size="19.3" text-anchor="end" fill="#4D4D4D">0.7</text>
<line x1="1069.3" y1="181.02" x2="1078.6" y2="181.02" stroke="#333" stroke-width="2"/>
<text transform="translate(1063.4,187.72)" font-size="19.3" text-anchor="end" fill="#4D4D4D">0.8</text>
<line x1="1069.3" y1="110.86" x2="1078.6" y2="110.86" stroke="#333" stroke-width="2"/>
<text transform="translate(1063.4,117.56)" font-size="19.3" text-anchor="end" fill="#4D4D4D">0.9</text>
<line x1="1069.3" y1="40.7" x2="1078.6" y2="40.7" stroke="#333" stroke-width="2"/>
<text transform="translate(1063.4,47.4)" font-size="19.3" text-anchor="end" fill="#4D4D4D">1.0</text>
<line x1="1094.7" y1="405.1" x2="1094.7" y2="414.1" stroke="#333" stroke-width="2"/>
<text transform="translate(1094.7,432.3)" font-size="19.3" text-anchor="middle" fill="#4D4D4D">0.5</text>
<line x1="1177.45" y1="405.1" x2="1177.45" y2="414.1" stroke="#333" stroke-width="2"/>
<text transform="translate(1177.45,432.3)" font-size="19.3" text-anchor="middle" fill="#4D4D4D">0.6</text>
<line x1="1260.2" y1="405.1" x2="1260.2" y2="414.1" stroke="#333" stroke-width="2"/>
<text transform="translate(1260.2,432.3)" font-size="19.3" text-anchor="middle" fill="#4D4D4D">0.7</text>
<line x1="1342.95" y1="405.1" x2="1342.95" y2="414.1" stroke="#333" stroke-width="2"/>
<text transform="translate(1342.95,432.3)" font-size="19.3" text-anchor="middle" fill="#4D4D4D">0.8</text>
<line x1="1425.7" y1="405.1" x2="1425.7" y2="414.1" stroke="#333" stroke-width="2"/>
<text transform="translate(1425.7,432.3)" font-size="19.3" text-anchor="middle" fill="#4D4D4D">0.9</text>
<line x1="1508.45" y1="405.1" x2="1508.45" y2="414.1" stroke="#333" stroke-width="2"/>
<text transform="translate(1508.45,432.3)" font-size="19.3" text-anchor="middle" fill="#4D4D4D">1.0</text>
<text transform="translate(1301.3,462.9) scale(0.9695,1)" font-size="23.5" text-anchor="middle">Nomogram predicted survival probability</text>
<text transform="translate(1025.4,218.9) scale(0.9600,1) rotate(-90)" font-size="23.3" text-anchor="middle">Observed fraction survival probability</text>
<line x1="1398.8" y1="331.6" x2="1420.8" y2="331.6" stroke="#4DBBD5" stroke-width="2"/>
<text transform="translate(1433.6,338.2)" font-size="20">3-year</text>
<line x1="1398.8" y1="350.07" x2="1420.8" y2="350.07" stroke="#E64B35" stroke-width="2"/>
<text transform="translate(1433.6,356.67)" font-size="20">5-year</text>
<line x1="1398.8" y1="368.54" x2="1420.8" y2="368.54" stroke="#00A087" stroke-width="2"/>
<text transform="translate(1433.6,375.14)" font-size="20">10-year</text>
<line x1="1398.8" y1="387.01" x2="1420.8" y2="387.01" stroke="#BEBEBE" stroke-width="2"/>
<text transform="translate(1433.6,393.61)" font-size="20">Ideal line</text>
<text transform="translate(5.7,531.8)" font-size="40.8">C</text>
<line x1="112" y1="526.7" x2="498.8" y2="526.7" stroke="#000" stroke-width="1.3"/>
<line x1="498.2" y1="526.7" x2="498.2" y2="904.3" stroke="#000" stroke-width="1.3"/>
<clipPath id="clipC"><rect x="112" y="526.7" width="386.2" height="377.6"/></clipPath>
<g clip-path="url(#clipC)">
<line x1="122.33" y1="810" x2="488.37" y2="810" stroke="#3C5488" stroke-width="2.2"/>
<path d="M122.33 518.86 L123.08 527.84 L123.83 536.85 L124.58 545.9 L125.32 554.98 L126.07 564.11 L126.82 573.27 L127.56 582.46 L128.31 591.7 L129.06 600.97 L129.81 610.28 L130.55 619.63 L131.3 629.02 L132.05 638.45 L132.79 647.92 L133.54 657.42 L134.29 666.97 L135.03 676.55 L135.78 686.18 L136.53 695.85 L137.28 705.55 L138.02 715.3 L138.77 725.09 L139.52 734.92 L140.26 744.79 L141.01 754.71 L141.76 764.66 L142.5 774.66 L143.25 784.71 L144 794.79 L144.75 804.92 L145.49 815.09 L146.24 825.31 L146.99 835.57 L147.73 845.87 L148.48 856.22 L149.23 866.62 L149.97 877.06 L150.72 887.54 L151.47 898.08 L152.22 908.65 L152.96 919.28" fill="none" stroke="#00A087" stroke-width="2.2" stroke-linejoin="round"/>
<path d="M122.8 526.4 L129.2 599.8 L134.5 670 L138.9 696.8 L144.9 723.7 L148.6 732.6 L152.4 753.5 L159.8 767.7 L164.3 769.9 L168.8 774.4 L173.2 781.8 L177.7 789.3 L181.4 791.5 L185.2 796 L191.1 799 L198.6 801.5 L203.8 800.9 L207.5 802.7 L211.3 802.4 L219.5 804.9 L225.4 806 L231.4 806.4 L234.4 807.5 L250 807.8 L267.2 807.9" fill="none" stroke="#4DBBD5" stroke-width="2.3" stroke-linejoin="round"/>
<path d="M122.8 526.4 L129.2 599.8 L134.5 670 L136.7 699.8 L139.7 726.7 L141.9 728.9 L144.9 730.4 L146.4 740.1 L148.6 753.5 L152.4 761 L156.1 772.9 L161.3 781.1 L167.3 792.3 L174.7 799 L178.5 798.2 L182.2 800.5 L185.9 804.2 L190.4 805.7 L193.4 809 L197.1 807.5 L204.5 807.2 L209 808.7 L216.5 808.2 L219.5 809.9 L250 810.4 L283.5 811 L325.7 812.6 L328.5 811 L331.1 810.5 L369.4 811.3 L400.7 812.1 L424.2 814.4 L437 816.3 L447.6 818.3 L456 820.6 L463.3 823.8 L468.5 827.2 L472.6 831.6 L476.5 837.5 L479.7 845.7" fill="none" stroke="#E64B35" stroke-width="2.3" stroke-linejoin="round"/>
</g>
<line x1="112" y1="526.1" x2="112" y2="905.5" stroke="#000" stroke-width="2.4"/>
<line x1="102.6" y1="904.3" x2="498.8" y2="904.3" stroke="#000" stroke-width="2.4"/>
<line x1="102.6" y1="526.5" x2="112" y2="526.5" stroke="#000" stroke-width="2.2"/>
<text transform="translate(95.2,533.4) scale(0.9900,1)" font-size="20.2" text-anchor="end">0.06</text>
<line x1="102.6" y1="621" x2="112" y2="621" stroke="#000" stroke-width="2.2"/>
<text transform="translate(95.2,627.9) scale(0.9900,1)" font-size="20.2" text-anchor="end">0.04</text>
<line x1="102.6" y1="715.5" x2="112" y2="715.5" stroke="#000" stroke-width="2.2"/>
<text transform="translate(95.2,722.4) scale(0.9900,1)" font-size="20.2" text-anchor="end">0.02</text>
<line x1="102.6" y1="810" x2="112" y2="810" stroke="#000" stroke-width="2.2"/>
<text transform="translate(95.2,816.9) scale(0.9900,1)" font-size="20.2" text-anchor="end">0.00</text>
<line x1="102.6" y1="904.5" x2="112" y2="904.5" stroke="#000" stroke-width="2.2"/>
<text transform="translate(95.2,911.4) scale(0.9900,1)" font-size="20.2" text-anchor="end">-0.02</text>
<line x1="118.6" y1="904.3" x2="118.6" y2="913.5" stroke="#000" stroke-width="2.2"/>
<text transform="translate(118.6,935.9) scale(0.9600,1)" font-size="20.3" text-anchor="middle">0.0</text>
<line x1="193.3" y1="904.3" x2="193.3" y2="913.5" stroke="#000" stroke-width="2.2"/>
<text transform="translate(193.3,935.9) scale(0.9600,1)" font-size="20.3" text-anchor="middle">0.2</text>
<line x1="268" y1="904.3" x2="268" y2="913.5" stroke="#000" stroke-width="2.2"/>
<text transform="translate(268,935.9) scale(0.9600,1)" font-size="20.3" text-anchor="middle">0.4</text>
<line x1="342.7" y1="904.3" x2="342.7" y2="913.5" stroke="#000" stroke-width="2.2"/>
<text transform="translate(342.7,935.9) scale(0.9600,1)" font-size="20.3" text-anchor="middle">0.6</text>
<line x1="417.4" y1="904.3" x2="417.4" y2="913.5" stroke="#000" stroke-width="2.2"/>
<text transform="translate(417.4,935.9) scale(0.9600,1)" font-size="20.3" text-anchor="middle">0.8</text>
<line x1="492.1" y1="904.3" x2="492.1" y2="913.5" stroke="#000" stroke-width="2.2"/>
<text transform="translate(492.1,935.9) scale(0.9600,1)" font-size="20.3" text-anchor="middle">1.0</text>
<text transform="translate(305.6,962.8) scale(0.9589,1)" font-size="23.6" text-anchor="middle">Threshold Probability</text>
<text transform="translate(41,715.6) rotate(-90)" font-size="23.1" text-anchor="middle">Net Benefit</text>
<text transform="translate(362,545.8)" font-size="19.2">3-year</text>
<line x1="364.3" y1="564.8" x2="382.5" y2="564.8" stroke="#4DBBD5" stroke-width="2.2"/>
<text transform="translate(394.3,571.4)" font-size="19.5">NPAR</text>
<line x1="364.3" y1="587.95" x2="382.5" y2="587.95" stroke="#E64B35" stroke-width="2.2"/>
<text transform="translate(394.3,594.55)" font-size="19.5">SIRI</text>
<line x1="364.3" y1="611.1" x2="382.5" y2="611.1" stroke="#00A087" stroke-width="2.2"/>
<text transform="translate(394.3,617.7)" font-size="19.5">All positive</text>
<line x1="364.3" y1="634.25" x2="382.5" y2="634.25" stroke="#3C5488" stroke-width="2.2"/>
<text transform="translate(394.3,640.85)" font-size="19.5">All negative</text>
<text transform="translate(540.5,531.5)" font-size="38.5">D</text>
<line x1="648.3" y1="526.7" x2="1034.6" y2="526.7" stroke="#000" stroke-width="1.3"/>
<line x1="1034" y1="526.7" x2="1034" y2="904.3" stroke="#000" stroke-width="1.3"/>
<clipPath id="clipD"><rect x="648.3" y="526.7" width="385.7" height="377.6"/></clipPath>
<g clip-path="url(#clipD)">
<line x1="658.83" y1="810" x2="1024.57" y2="810" stroke="#3C5488" stroke-width="2.2"/>
<path d="M658.83 262.57 L659.58 271.02 L660.32 279.52 L661.07 288.04 L661.82 296.6 L662.56 305.2 L663.31 313.83 L664.06 322.49 L664.8 331.19 L665.55 339.93 L666.3 348.7 L667.04 357.51 L667.79 366.36 L668.54 375.24 L669.28 384.16 L670.03 393.12 L670.77 402.11 L671.52 411.14 L672.27 420.21 L673.01 429.32 L673.76 438.47 L674.51 447.65 L675.25 456.87 L676 466.14 L676.75 475.44 L677.49 484.78 L678.24 494.16 L678.98 503.58 L679.73 513.04 L680.48 522.55 L681.22 532.09 L681.97 541.67 L682.72 551.3 L683.46 560.97 L684.21 570.68 L684.96 580.43 L685.7 590.22 L686.45 600.06 L687.2 609.94 L687.94 619.86 L688.69 629.83 L689.43 639.84 L690.18 649.89 L690.93 659.99 L691.67 670.14 L692.42 680.33 L693.17 690.56 L693.91 700.84 L694.66 711.17 L695.41 721.54 L696.15 731.96 L696.9 742.42 L697.64 752.94 L698.39 763.5 L699.14 774.11 L699.88 784.76 L700.63 795.47 L701.38 806.22 L702.12 817.03 L702.87 827.88 L703.62 838.78 L704.36 849.74 L705.11 860.74 L705.86 871.8 L706.6 882.9 L707.35 894.06 L708.09 905.27 L708.84 916.53" fill="none" stroke="#00A087" stroke-width="2.2" stroke-linejoin="round"/>
<path d="M680.6 527.2 L684.7 577.6 L692.9 635.2 L697 655.8 L699.1 676.4 L703 690 L708 705.4 L711.9 718.3 L715.7 736.3 L720.9 746.6 L726 754.3 L729.9 762.7 L733.7 761.4 L737.6 759.7 L741.4 760.7 L746.6 771 L751.7 782.6 L755.6 785.8 L760.1 785.8 L767.2 794.2 L772.3 797.8 L780 798.7 L791.6 802.5 L796.8 801.9 L803.2 803.8 L808.3 803.2 L812.2 804.5 L816 803.8 L821.2 805.5 L828.9 805.8 L834 805.1" fill="none" stroke="#4DBBD5" stroke-width="2.3" stroke-linejoin="round"/>
<path d="M680.6 527.2 L691.9 670.2 L696 665.7 L700.1 666.5 L703.5 690 L706.7 724.7 L710.6 733.7 L714.4 749.2 L722.2 762.7 L729.2 767.8 L733.7 775.5 L740.8 785.2 L747.9 791 L752.4 791.6 L755.6 789.7 L760.7 792.9 L765.9 795.5 L771 800 L775.5 799.3 L782 804.5 L790.3 807 L796.8 806.4 L800.6 807.7 L816 808.1 L822.5 809.6 L826.3 809 L850 809.4 L880 810.6 L900.8 811.3" fill="none" stroke="#E64B35" stroke-width="2.3" stroke-linejoin="round"/>
</g>
<line x1="648.3" y1="526.1" x2="648.3" y2="905.5" stroke="#000" stroke-width="2.4"/>
<line x1="638.9" y1="904.3" x2="1034.6" y2="904.3" stroke="#000" stroke-width="2.4"/>
<line x1="638.9" y1="526.5" x2="648.3" y2="526.5" stroke="#000" stroke-width="2.2"/>
<text transform="translate(631.5,533.4) scale(0.9900,1)" font-size="20.2" text-anchor="end">0.06</text>
<line x1="638.9" y1="621" x2="648.3" y2="621" stroke="#000" stroke-width="2.2"/>
<text transform="translate(631.5,627.9) scale(0.9900,1)" font-size="20.2" text-anchor="end">0.04</text>
<line x1="638.9" y1="715.5" x2="648.3" y2="715.5" stroke="#000" stroke-width="2.2"/>
<text transform="translate(631.5,722.4) scale(0.9900,1)" font-size="20.2" text-anchor="end">0.02</text>
<line x1="638.9" y1="810" x2="648.3" y2="810" stroke="#000" stroke-width="2.2"/>
<text transform="translate(631.5,816.9) scale(0.9900,1)" font-size="20.2" text-anchor="end">0.00</text>
<line x1="638.9" y1="904.5" x2="648.3" y2="904.5" stroke="#000" stroke-width="2.2"/>
<text transform="translate(631.5,911.4) scale(0.9900,1)" font-size="20.2" text-anchor="end">-0.02</text>
<line x1="655.1" y1="904.3" x2="655.1" y2="913.5" stroke="#000" stroke-width="2.2"/>
<text transform="translate(655.1,935.9) scale(0.9600,1)" font-size="20.3" text-anchor="middle">0.0</text>
<line x1="729.74" y1="904.3" x2="729.74" y2="913.5" stroke="#000" stroke-width="2.2"/>
<text transform="translate(729.74,935.9) scale(0.9600,1)" font-size="20.3" text-anchor="middle">0.2</text>
<line x1="804.38" y1="904.3" x2="804.38" y2="913.5" stroke="#000" stroke-width="2.2"/>
<text transform="translate(804.38,935.9) scale(0.9600,1)" font-size="20.3" text-anchor="middle">0.4</text>
<line x1="879.02" y1="904.3" x2="879.02" y2="913.5" stroke="#000" stroke-width="2.2"/>
<text transform="translate(879.02,935.9) scale(0.9600,1)" font-size="20.3" text-anchor="middle">0.6</text>
<line x1="953.66" y1="904.3" x2="953.66" y2="913.5" stroke="#000" stroke-width="2.2"/>
<text transform="translate(953.66,935.9) scale(0.9600,1)" font-size="20.3" text-anchor="middle">0.8</text>
<line x1="1028.3" y1="904.3" x2="1028.3" y2="913.5" stroke="#000" stroke-width="2.2"/>
<text transform="translate(1028.3,935.9) scale(0.9600,1)" font-size="20.3" text-anchor="middle">1.0</text>
<text transform="translate(841.65,962.8) scale(0.9589,1)" font-size="23.6" text-anchor="middle">Threshold Probability</text>
<text transform="translate(577.3,715.6) rotate(-90)" font-size="23.1" text-anchor="middle">Net Benefit</text>
<text transform="translate(898.5,545.8)" font-size="19.2">5-year</text>
<line x1="900.8" y1="564.8" x2="919" y2="564.8" stroke="#4DBBD5" stroke-width="2.2"/>
<text transform="translate(930.8,571.4)" font-size="19.5">NPAR</text>
<line x1="900.8" y1="587.95" x2="919" y2="587.95" stroke="#E64B35" stroke-width="2.2"/>
<text transform="translate(930.8,594.55)" font-size="19.5">SIRI</text>
<line x1="900.8" y1="611.1" x2="919" y2="611.1" stroke="#00A087" stroke-width="2.2"/>
<text transform="translate(930.8,617.7)" font-size="19.5">All positive</text>
<line x1="900.8" y1="634.25" x2="919" y2="634.25" stroke="#3C5488" stroke-width="2.2"/>
<text transform="translate(930.8,640.85)" font-size="19.5">All negative</text>
<text transform="translate(1078,531.5)" font-size="38.5">E</text>
<line x1="1183.4" y1="526.7" x2="1524.2" y2="526.7" stroke="#000" stroke-width="1.3"/>
<line x1="1523.6" y1="526.7" x2="1523.6" y2="904.3" stroke="#000" stroke-width="1.3"/>
<clipPath id="clipE"><rect x="1183.4" y="526.7" width="340.2" height="377.6"/></clipPath>
<g clip-path="url(#clipE)">
<line x1="1192.78" y1="841.4" x2="1514.62" y2="841.4" stroke="#3C5488" stroke-width="2.2"/>
<path d="M1192.78 -79.72 L1193.44 -75.22 L1194.1 -70.7 L1194.75 -66.15 L1195.41 -61.59 L1196.07 -57.01 L1196.72 -52.42 L1197.38 -47.8 L1198.04 -43.17 L1198.7 -38.51 L1199.35 -33.84 L1200.01 -29.14 L1200.67 -24.43 L1201.32 -19.7 L1201.98 -14.95 L1202.64 -10.18 L1203.29 -5.38 L1203.95 -0.57 L1204.61 4.26 L1205.26 9.11 L1205.92 13.98 L1206.58 18.88 L1207.23 23.79 L1207.89 28.72 L1208.55 33.68 L1209.2 38.66 L1209.86 43.65 L1210.52 48.67 L1211.17 53.71 L1211.83 58.78 L1212.49 63.86 L1213.14 68.97 L1213.8 74.09 L1214.46 79.24 L1215.12 84.42 L1215.77 89.61 L1216.43 94.83 L1217.09 100.07 L1217.74 105.33 L1218.4 110.62 L1219.06 115.93 L1219.71 121.26 L1220.37 126.62 L1221.03 132 L1221.68 137.4 L1222.34 142.83 L1223 148.29 L1223.65 153.76 L1224.31 159.26 L1224.97 164.79 L1225.62 170.34 L1226.28 175.92 L1226.94 181.52 L1227.59 187.14 L1228.25 192.79 L1228.91 198.47 L1229.56 204.18 L1230.22 209.9 L1230.88 215.66 L1231.54 221.44 L1232.19 227.25 L1232.85 233.09 L1233.51 238.95 L1234.16 244.84 L1234.82 250.75 L1235.48 256.7 L1236.13 262.67 L1236.79 268.67 L1237.45 274.7 L1238.1 280.76 L1238.76 286.84 L1239.42 292.95 L1240.07 299.1 L1240.73 305.27 L1241.39 311.47 L1242.04 317.7 L1242.7 323.96 L1243.36 330.25 L1244.01 336.57 L1244.67 342.92 L1245.33 349.3 L1245.98 355.71 L1246.64 362.16 L1247.3 368.63 L1247.96 375.14 L1248.61 381.67 L1249.27 388.24 L1249.93 394.85 L1250.58 401.48 L1251.24 408.15 L1251.9 414.85 L1252.55 421.58 L1253.21 428.35 L1253.87 435.15 L1254.52 441.98 L1255.18 448.85 L1255.84 455.75 L1256.49 462.69 L1257.15 469.66 L1257.81 476.67 L1258.46 483.71 L1259.12 490.79 L1259.78 497.91 L1260.43 505.06 L1261.09 512.24 L1261.75 519.47 L1262.4 526.73 L1263.06 534.03 L1263.72 541.37 L1264.38 548.74 L1265.03 556.15 L1265.69 563.61 L1266.35 571.1 L1267 578.63 L1267.66 586.2 L1268.32 593.8 L1268.97 601.45 L1269.63 609.14 L1270.29 616.87 L1270.94 624.65 L1271.6 632.46 L1272.26 640.31 L1272.91 648.21 L1273.57 656.15 L1274.23 664.13 L1274.88 672.16 L1275.54 680.23 L1276.2 688.34 L1276.85 696.5 L1277.51 704.7 L1278.17 712.95 L1278.82 721.24 L1279.48 729.58 L1280.14 737.96 L1280.8 746.39 L1281.45 754.87 L1282.11 763.39 L1282.77 771.96 L1283.42 780.58 L1284.08 789.25 L1284.74 797.97 L1285.39 806.73 L1286.05 815.55 L1286.71 824.41 L1287.36 833.33 L1288.02 842.3 L1288.68 851.32 L1289.33 860.39 L1289.99 869.51 L1290.65 878.69 L1291.3 887.92 L1291.96 897.2 L1292.62 906.54 L1293.27 915.93" fill="none" stroke="#00A087" stroke-width="2.2" stroke-linejoin="round"/>
<path d="M1262.3 526.7 L1264.2 527.4 L1268.5 569.4 L1272.2 591.6 L1275.9 606.4 L1280.2 640 L1280.9 657.9 L1284 665.1 L1287.4 690 L1291.5 708.1 L1294.8 716.3 L1297.3 729.5 L1301.4 753.3 L1304.7 744 L1310.4 769 L1314.6 773.9 L1320.3 771.4 L1325.2 773.1 L1330.2 781.3 L1333.5 776.4 L1337.6 785.4 L1342.5 787.4 L1347.5 784.6 L1352.4 787.4 L1357.3 790.4 L1360.6 788.7 L1363.9 792.8 L1367.2 803.5 L1370.5 806.8 L1374.6 815 L1378.7 816.4 L1386.9 818.3 L1396.8 820.8 L1401.7 822.4 L1410 824.1 L1414.9 829 L1419.8 834 L1424.8 833.5 L1429.7 834.8 L1438 837.3 L1447.8 839.7 L1458.5 843" fill="none" stroke="#4DBBD5" stroke-width="2.3" stroke-linejoin="round"/>
<path d="M1262.3 526.7 L1271 623.7 L1274.7 625.6 L1278.4 608.3 L1283.3 624.9 L1287 640 L1290.1 659.9 L1296.5 690 L1299.7 701.5 L1304.7 718 L1308 726.2 L1311.3 749.2 L1317 767.3 L1323.6 786.2 L1330.2 792.8 L1335.1 793.3 L1340.9 797.8 L1349.1 813.4 L1357.3 821.6 L1362.3 822.4 L1367.2 820.8 L1370.5 821.6 L1373.8 826.2 L1379.5 828.5 L1383.7 827.4 L1387.8 828.5 L1393.5 827.9 L1398.5 831.5 L1403.4 835.6 L1408.3 836.4 L1414.9 838.9 L1419.8 841.4 L1425.6 842.7" fill="none" stroke="#E64B35" stroke-width="2.3" stroke-linejoin="round"/>
</g>
<line x1="1183.4" y1="526.1" x2="1183.4" y2="905.5" stroke="#000" stroke-width="2.4"/>
<line x1="1174" y1="904.3" x2="1524.2" y2="904.3" stroke="#000" stroke-width="2.4"/>
<line x1="1174" y1="526.73" x2="1183.4" y2="526.73" stroke="#000" stroke-width="2.2"/>
<text transform="translate(1166.6,533.63) scale(0.9900,1)" font-size="20.2" text-anchor="end">0.10</text>
<line x1="1174" y1="589.66" x2="1183.4" y2="589.66" stroke="#000" stroke-width="2.2"/>
<text transform="translate(1166.6,596.56) scale(0.9900,1)" font-size="20.2" text-anchor="end">0.08</text>
<line x1="1174" y1="652.6" x2="1183.4" y2="652.6" stroke="#000" stroke-width="2.2"/>
<text transform="translate(1166.6,659.5) scale(0.9900,1)" font-size="20.2" text-anchor="end">0.06</text>
<line x1="1174" y1="715.53" x2="1183.4" y2="715.53" stroke="#000" stroke-width="2.2"/>
<text transform="translate(1166.6,722.43) scale(0.9900,1)" font-size="20.2" text-anchor="end">0.04</text>
<line x1="1174" y1="778.47" x2="1183.4" y2="778.47" stroke="#000" stroke-width="2.2"/>
<text transform="translate(1166.6,785.37) scale(0.9900,1)" font-size="20.2" text-anchor="end">0.02</text>
<line x1="1174" y1="841.4" x2="1183.4" y2="841.4" stroke="#000" stroke-width="2.2"/>
<text transform="translate(1166.6,848.3) scale(0.9900,1)" font-size="20.2" text-anchor="end">0.00</text>
<line x1="1174" y1="904.33" x2="1183.4" y2="904.33" stroke="#000" stroke-width="2.2"/>
<text transform="translate(1166.6,911.23) scale(0.9900,1)" font-size="20.2" text-anchor="end">-0.02</text>
<line x1="1189.5" y1="904.3" x2="1189.5" y2="913.5" stroke="#000" stroke-width="2.2"/>
<text transform="translate(1189.5,935.9) scale(0.9600,1)" font-size="20.3" text-anchor="middle">0.0</text>
<line x1="1255.18" y1="904.3" x2="1255.18" y2="913.5" stroke="#000" stroke-width="2.2"/>
<text transform="translate(1255.18,935.9) scale(0.9600,1)" font-size="20.3" text-anchor="middle">0.2</text>
<line x1="1320.86" y1="904.3" x2="1320.86" y2="913.5" stroke="#000" stroke-width="2.2"/>
<text transform="translate(1320.86,935.9) scale(0.9600,1)" font-size="20.3" text-anchor="middle">0.4</text>
<line x1="1386.54" y1="904.3" x2="1386.54" y2="913.5" stroke="#000" stroke-width="2.2"/>
<text transform="translate(1386.54,935.9) scale(0.9600,1)" font-size="20.3" text-anchor="middle">0.6</text>
<line x1="1452.22" y1="904.3" x2="1452.22" y2="913.5" stroke="#000" stroke-width="2.2"/>
<text transform="translate(1452.22,935.9) scale(0.9600,1)" font-size="20.3" text-anchor="middle">0.8</text>
<line x1="1517.9" y1="904.3" x2="1517.9" y2="913.5" stroke="#000" stroke-width="2.2"/>
<text transform="translate(1517.9,935.9) scale(0.9600,1)" font-size="20.3" text-anchor="middle">1.0</text>
<text transform="translate(1354,962.8) scale(0.9589,1)" font-size="23.6" text-anchor="middle">Threshold Probability</text>
<text transform="translate(1112.4,715.6) rotate(-90)" font-size="23.1" text-anchor="middle">Net Benefit</text>
<text transform="translate(1388,545.8)" font-size="19.2">10-year</text>
<line x1="1390.3" y1="564.8" x2="1408.5" y2="564.8" stroke="#4DBBD5" stroke-width="2.2"/>
<text transform="translate(1420.3,571.4)" font-size="19.5">NPAR</text>
<line x1="1390.3" y1="587.95" x2="1408.5" y2="587.95" stroke="#E64B35" stroke-width="2.2"/>
<text transform="translate(1420.3,594.55)" font-size="19.5">SIRI</text>
<line x1="1390.3" y1="611.1" x2="1408.5" y2="611.1" stroke="#00A087" stroke-width="2.2"/>
<text transform="translate(1420.3,617.7)" font-size="19.5">All positive</text>
<line x1="1390.3" y1="634.25" x2="1408.5" y2="634.25" stroke="#3C5488" stroke-width="2.2"/>
<text transform="translate(1420.3,640.85)" font-size="19.5">All negative</text>
</svg>
</body></html>
